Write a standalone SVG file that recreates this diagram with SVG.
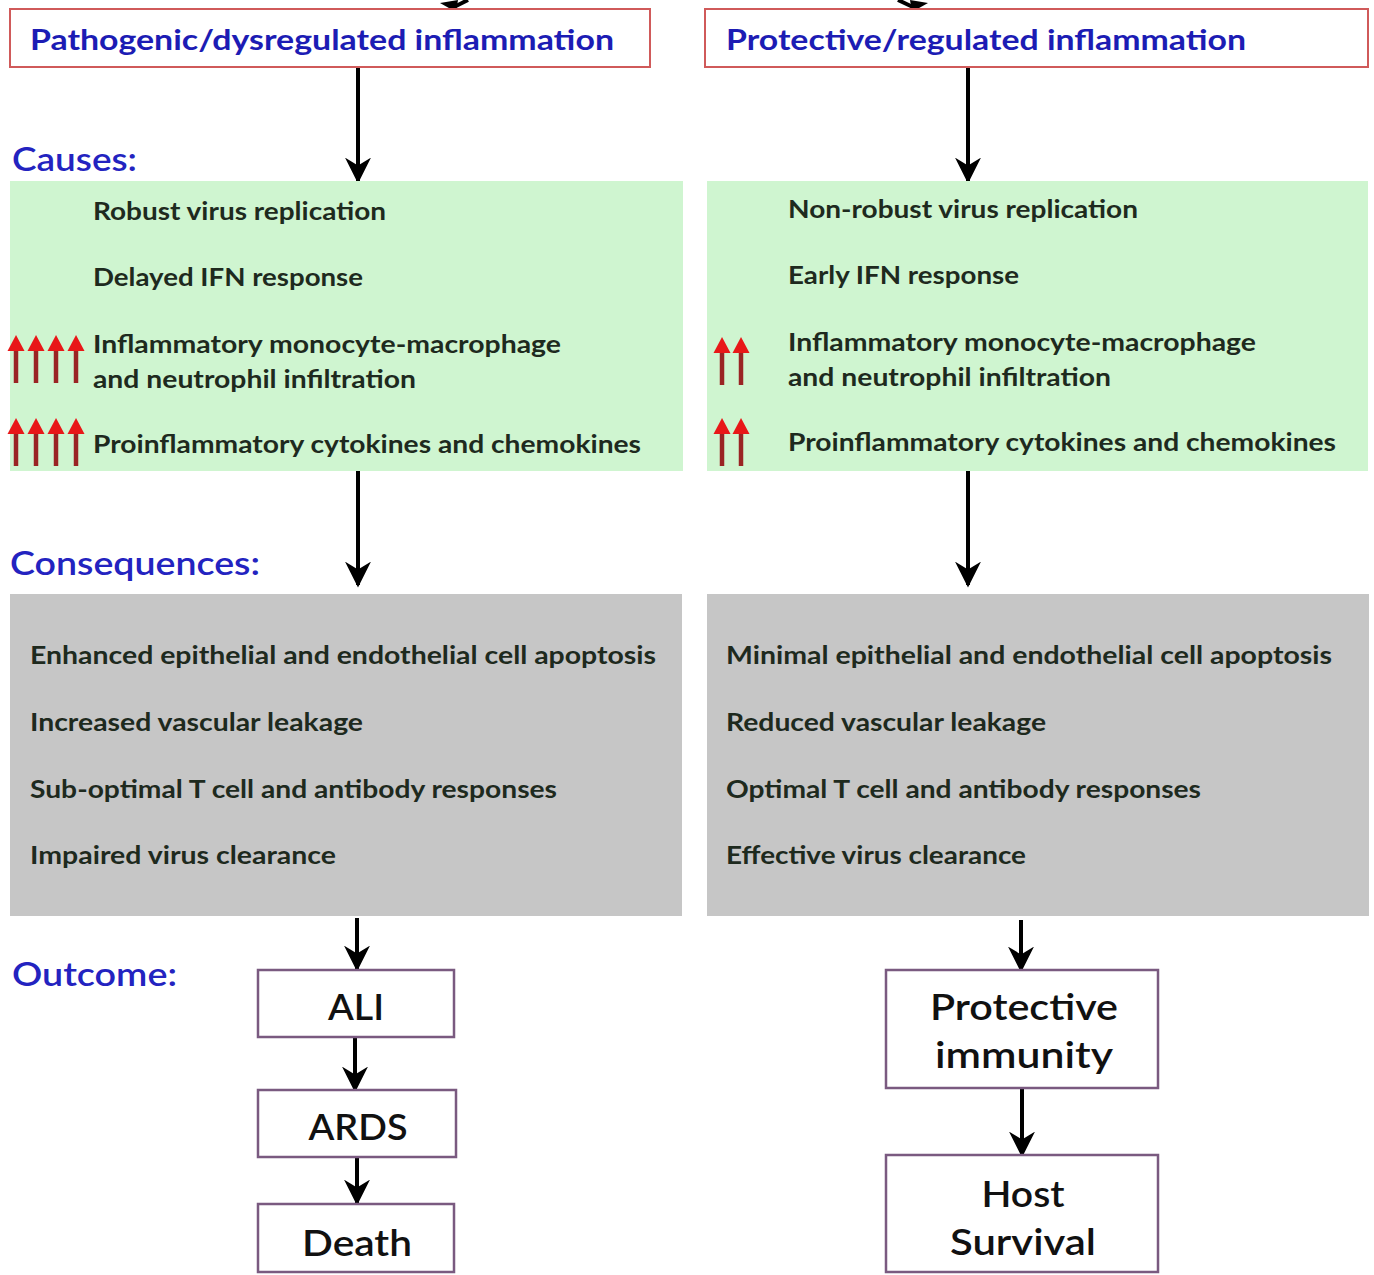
<svg xmlns="http://www.w3.org/2000/svg" width="1374" height="1275" viewBox="0 0 1374 1275">
<defs>
<style>
.title{font-family:Lato,"Open Sans","Liberation Sans",sans-serif;font-weight:bold;font-size:29px;fill:#1c1cb4}
.head{font-family:Lato,"Open Sans","Liberation Sans",sans-serif;font-size:32px;font-weight:600;fill:#2323c0}
.body{font-family:Lato,"Open Sans","Liberation Sans",sans-serif;font-size:24px;font-weight:bold;fill:#1e2a1e}
.out{font-family:Lato,"Open Sans","Liberation Sans",sans-serif;font-size:37px;font-weight:600;fill:#111;text-anchor:middle}
.tbox{fill:#fff;stroke:#d05a5a;stroke-width:2}
.obox{fill:#fff;stroke:#7a5a80;stroke-width:2.5}
.green{fill:#cff5d0}
.grey{fill:#c6c6c6}
.conn{stroke:#000;stroke-width:4;fill:none}
.red{stroke:#9a2424;stroke-width:4.5}
</style>
<marker id="ah" viewBox="0 0 10 10" refX="9" refY="5" markerWidth="6.5" markerHeight="6.5" markerUnits="strokeWidth" orient="auto">
<path d="M0,0 L10,5 L0,10 L3,5 Z" fill="#000"/>
</marker>
<g id="rarrow">
<line x1="0" y1="48" x2="0" y2="12" class="red"/>
<path d="M0,0 L8.5,16 L-8.5,16 Z" fill="#e81818"/>
</g>
</defs>
<rect width="1374" height="1275" fill="#fff"/>

<g id="connectors">
<path d="M468,0 L452,8" class="conn"/>
<path d="M440,3 L456,12 L458,0 Z" fill="#000"/>
<path d="M898,0 L915,8" class="conn"/>
<path d="M928,3 L912,12 L910,0 Z" fill="#000"/>
<line x1="358" y1="67" x2="358" y2="181" class="conn" marker-end="url(#ah)"/>
<line x1="968" y1="58" x2="968" y2="181" class="conn" marker-end="url(#ah)"/>
<line x1="358" y1="471" x2="358" y2="585" class="conn" marker-end="url(#ah)"/>
<line x1="968" y1="463" x2="968" y2="585" class="conn" marker-end="url(#ah)"/>
<line x1="357" y1="918" x2="357" y2="969" class="conn" marker-end="url(#ah)"/>
<line x1="1021" y1="920" x2="1021" y2="970" class="conn" marker-end="url(#ah)"/>
<line x1="355" y1="1038" x2="355" y2="1090" class="conn" marker-end="url(#ah)"/>
<line x1="357" y1="1158" x2="357" y2="1203" class="conn" marker-end="url(#ah)"/>
<line x1="1022" y1="1089" x2="1022" y2="1155" class="conn" marker-end="url(#ah)"/>
</g>

<g id="pathogenic">
<rect x="10" y="9" width="640" height="58" class="tbox"/>
<text x="30" y="50" class="title" textLength="584" lengthAdjust="spacingAndGlyphs">Pathogenic/dysregulated inflammation</text>
</g>
<g id="protective">
<rect x="705" y="9" width="663" height="58" class="tbox"/>
<text x="726" y="50" class="title" textLength="520" lengthAdjust="spacingAndGlyphs">Protective/regulated inflammation</text>
</g>

<text id="causes-label" x="12" y="171" class="head" textLength="125" lengthAdjust="spacingAndGlyphs">Causes:</text>
<text id="consequences-label" x="10" y="575" class="head" textLength="250" lengthAdjust="spacingAndGlyphs">Consequences:</text>
<text id="outcome-label" x="12" y="986" class="head" textLength="165" lengthAdjust="spacingAndGlyphs">Outcome:</text>

<g id="causes-left">
<rect x="10" y="181" width="673" height="290" class="green"/>
<text x="93" y="220" class="body" textLength="293" lengthAdjust="spacingAndGlyphs">Robust virus replication</text>
<text x="93" y="286" class="body" textLength="270" lengthAdjust="spacingAndGlyphs">Delayed IFN response</text>
<text x="93" y="353" class="body" textLength="468" lengthAdjust="spacingAndGlyphs">Inflammatory monocyte-macrophage</text>
<text x="93" y="388" class="body" textLength="323" lengthAdjust="spacingAndGlyphs">and neutrophil infiltration</text>
<text x="93" y="453" class="body" textLength="548" lengthAdjust="spacingAndGlyphs">Proinflammatory cytokines and chemokines</text>
<use href="#rarrow" x="16" y="335"/><use href="#rarrow" x="36" y="335"/><use href="#rarrow" x="56" y="335"/><use href="#rarrow" x="76" y="335"/>
<use href="#rarrow" x="16" y="418"/><use href="#rarrow" x="36" y="418"/><use href="#rarrow" x="56" y="418"/><use href="#rarrow" x="76" y="418"/>
</g>

<g id="causes-right">
<rect x="707" y="181" width="661" height="290" class="green"/>
<text x="788" y="218" class="body" textLength="350" lengthAdjust="spacingAndGlyphs">Non-robust virus replication</text>
<text x="788" y="284" class="body" textLength="231" lengthAdjust="spacingAndGlyphs">Early IFN response</text>
<text x="788" y="351" class="body" textLength="468" lengthAdjust="spacingAndGlyphs">Inflammatory monocyte-macrophage</text>
<text x="788" y="386" class="body" textLength="323" lengthAdjust="spacingAndGlyphs">and neutrophil infiltration</text>
<text x="788" y="451" class="body" textLength="548" lengthAdjust="spacingAndGlyphs">Proinflammatory cytokines and chemokines</text>
<use href="#rarrow" x="722" y="337"/><use href="#rarrow" x="741" y="337"/>
<use href="#rarrow" x="722" y="418"/><use href="#rarrow" x="741" y="418"/>
</g>

<g id="consequences-left">
<rect x="10" y="594" width="672" height="322" class="grey"/>
<text x="30" y="664" class="body" textLength="626" lengthAdjust="spacingAndGlyphs">Enhanced epithelial and endothelial cell apoptosis</text>
<text x="30" y="731" class="body" textLength="333" lengthAdjust="spacingAndGlyphs">Increased vascular leakage</text>
<text x="30" y="798" class="body" textLength="527" lengthAdjust="spacingAndGlyphs">Sub-optimal T cell and antibody responses</text>
<text x="30" y="864" class="body" textLength="306" lengthAdjust="spacingAndGlyphs">Impaired virus clearance</text>
</g>

<g id="consequences-right">
<rect x="707" y="594" width="662" height="322" class="grey"/>
<text x="726" y="664" class="body" textLength="606" lengthAdjust="spacingAndGlyphs">Minimal epithelial and endothelial cell apoptosis</text>
<text x="726" y="731" class="body" textLength="320" lengthAdjust="spacingAndGlyphs">Reduced vascular leakage</text>
<text x="726" y="798" class="body" textLength="475" lengthAdjust="spacingAndGlyphs">Optimal T cell and antibody responses</text>
<text x="726" y="864" class="body" textLength="300" lengthAdjust="spacingAndGlyphs">Effective virus clearance</text>
</g>

<g id="ali">
<rect x="258" y="970" width="196" height="67" class="obox"/>
<text x="356" y="1020" class="out" textLength="56" lengthAdjust="spacingAndGlyphs">ALI</text>
</g>
<g id="ards">
<rect x="258" y="1090" width="198" height="67" class="obox"/>
<text x="358" y="1140" class="out" textLength="99" lengthAdjust="spacingAndGlyphs">ARDS</text>
</g>
<g id="death">
<rect x="258" y="1204" width="196" height="68" class="obox"/>
<text x="357" y="1256" class="out" textLength="110" lengthAdjust="spacingAndGlyphs">Death</text>
</g>
<g id="protective-immunity">
<rect x="886" y="970" width="272" height="118" class="obox"/>
<text x="1024" y="1020" class="out" textLength="188" lengthAdjust="spacingAndGlyphs">Protective</text>
<text x="1024" y="1068" class="out" textLength="178" lengthAdjust="spacingAndGlyphs">immunity</text>
</g>
<g id="host-survival">
<rect x="886" y="1155" width="272" height="117" class="obox"/>
<text x="1023" y="1207" class="out" textLength="83" lengthAdjust="spacingAndGlyphs">Host</text>
<text x="1023" y="1255" class="out" textLength="146" lengthAdjust="spacingAndGlyphs">Survival</text>
</g>
</svg>
